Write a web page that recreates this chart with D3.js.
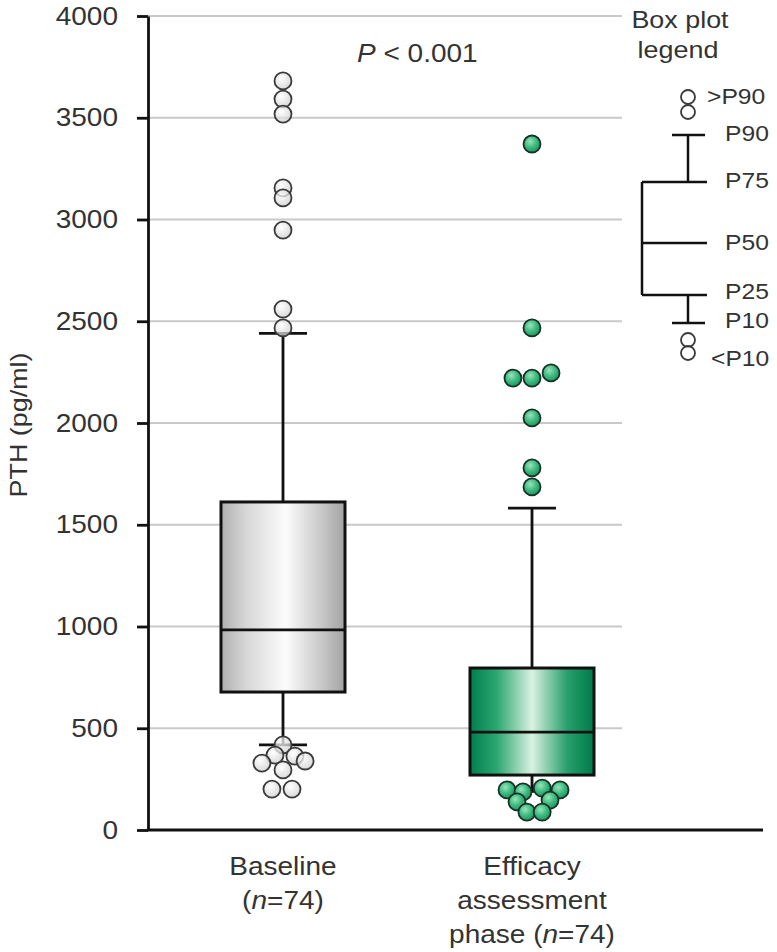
<!DOCTYPE html>
<html>
<head>
<meta charset="utf-8">
<script src="https://d3js.org/d3.v7.min.js"></script>
<style>
  body { margin: 0; background: #fff; }
  svg text { font-family: "Liberation Sans", Arial, sans-serif; fill: #333; }
</style>
</head>
<body>
<div class="chart"></div>
<script>
// data
const categories = ['Baseline', 'Efficacy assessment phase'];
const p10 = [418, 190];
const p25 = [678, 270];
const p50 = [983, 481];
const p75 = [1612, 796];
const p90 = [2440, 1582];

const baselineOutliers = [3681, 3592, 3518, 3155, 3106, 2948, 2560, 2467, 418, 368, 363, 329, 339, 295, 201, 201];
const baselineJitter = [0, 0, 0, 0, 0, 0, 0, 0, 0, -0.47, 0.7, -1.24, 1.3, 0, -0.65, 0.53];
const efficacyOutliers = [3371, 2467, 2221, 2221, 2246, 2025, 1779, 1686, 197, 187, 206, 197, 138, 147, 88, 88];
const efficacyJitter = [0, 0, -1.12, 0, 1.12, 0, 0, 0, -1.47, -0.53, 0.6, 1.65, -0.88, 1.06, -0.3, 0.6];

const yTicks = [0, 500, 1000, 1500, 2000, 2500, 3000, 3500, 4000];
const legendLabels = ['>P90', 'P90', 'P75', 'P50', 'P25', 'P10', '<P10'];

const w = 777, h = 952;
const boxW = 124;
const r = 8.5;
const stretch = 1.12;

const svg = d3.select('.chart').append('svg')
    .attr('width', w).attr('height', h);

const defs = svg.append('defs');
function linGrad(id, stops) {
    const g = defs.append('linearGradient').attr('id', id)
        .attr('x1', '0%').attr('x2', '100%').attr('y1', '0%').attr('y2', '0%');
    stops.forEach(s => g.append('stop').attr('offset', s[0]).attr('stop-color', s[1]));
}
linGrad('greyBox', [['0%', '#b0b0b0'], ['20%', '#d6d6d6'], ['52%', '#fcfcfc'], ['80%', '#cacaca'], ['100%', '#a2a2a2']]);
linGrad('greenBox', [['0%', '#007e4e'], ['22%', '#2ea872'], ['50%', '#d9f1e1'], ['78%', '#29a06c'], ['100%', '#007a4b']]);
function radGrad(id, stops) {
    const g = defs.append('radialGradient').attr('id', id)
        .attr('cx', '40%').attr('cy', '35%').attr('r', '65%');
    stops.forEach(s => g.append('stop').attr('offset', s[0]).attr('stop-color', s[1]));
}
radGrad('greyDot', [['0%', '#ffffff'], ['100%', '#cccccc']]);
radGrad('greenDot', [['0%', '#9be3bb'], ['55%', '#3dbb80'], ['100%', '#22955f']]);

const y = d3.scaleLinear().domain([0, 4000]).range([830, 16]);
const x = d3.scalePoint().domain(categories).range([283, 532]);

// horizontal grid
svg.append('g').selectAll('line')
    .data(yTicks.filter(d => d > 0))
    .enter().append('line')
    .attr('x1', 148).attr('x2', 622)
    .attr('y1', d => y(d)).attr('y2', d => y(d))
    .attr('stroke', '#c9c9c9').attr('stroke-width', 2);

// boxes
const stats = categories.map((c, i) => ({
    c: c, p10: p10[i], p25: p25[i], p50: p50[i], p75: p75[i], p90: p90[i],
    fill: i === 0 ? 'url(#greyBox)' : 'url(#greenBox)'
}));

const box = svg.append('g').selectAll('g').data(stats).enter().append('g');
box.append('line')
    .attr('x1', d => x(d.c)).attr('x2', d => x(d.c))
    .attr('y1', d => y(d.p90)).attr('y2', d => y(d.p10))
    .attr('stroke', '#111').attr('stroke-width', 2.8);
box.append('line')
    .attr('x1', d => x(d.c) - 24).attr('x2', d => x(d.c) + 24)
    .attr('y1', d => y(d.p90)).attr('y2', d => y(d.p90))
    .attr('stroke', '#111').attr('stroke-width', 2.8);
box.append('line')
    .attr('x1', d => x(d.c) - 24).attr('x2', d => x(d.c) + 24)
    .attr('y1', d => y(d.p10)).attr('y2', d => y(d.p10))
    .attr('stroke', '#111').attr('stroke-width', 2.8);
box.append('rect')
    .attr('x', d => x(d.c) - boxW / 2).attr('width', boxW)
    .attr('y', d => y(d.p75)).attr('height', d => y(d.p25) - y(d.p75))
    .attr('fill', d => d.fill)
    .attr('stroke', '#111').attr('stroke-width', 3);
box.append('line')
    .attr('x1', d => x(d.c) - boxW / 2).attr('x2', d => x(d.c) + boxW / 2)
    .attr('y1', d => y(d.p50)).attr('y2', d => y(d.p50))
    .attr('stroke', '#111').attr('stroke-width', 2.8);

// outliers
svg.append('g').selectAll('circle')
    .data(baselineOutliers.map((v, i) => [v, baselineJitter[i]]))
    .enter().append('circle')
    .attr('cx', d => x(categories[0]) + d[1] * 2 * r)
    .attr('cy', d => y(d[0]))
    .attr('r', r)
    .attr('fill', 'url(#greyDot)').attr('fill-opacity', 0.75)
    .attr('stroke', '#3a3a3a').attr('stroke-width', 1.8);

svg.append('g').selectAll('circle')
    .data(efficacyOutliers.map((v, i) => [v, efficacyJitter[i]]))
    .enter().append('circle')
    .attr('cx', d => x(categories[1]) + d[1] * 2 * r)
    .attr('cy', d => y(d[0]))
    .attr('r', r)
    .attr('fill', 'url(#greenDot)')
    .attr('stroke', '#173326').attr('stroke-width', 1.8);

// axes
const yAxis = d3.axisLeft(y).tickValues(yTicks).tickFormat(d3.format('d'))
    .tickSize(11).tickSizeOuter(0).tickPadding(19);
const ya = svg.append('g').attr('transform', 'translate(148,0)').call(yAxis);
ya.select('.domain').attr('stroke', '#111').attr('stroke-width', 2.8);
ya.selectAll('.tick line').attr('stroke', '#111').attr('stroke-width', 2.8);
ya.selectAll('.tick text').attr('font-size', 25).attr('fill', '#333')
    .style('font-family', '"Liberation Sans", Arial, sans-serif');

svg.append('line')
    .attr('x1', 147).attr('x2', 763).attr('y1', y(0)).attr('y2', y(0))
    .attr('stroke', '#111').attr('stroke-width', 3);

// y label
svg.append('text')
    .attr('transform', 'translate(27,425) rotate(-90)')
    .attr('text-anchor', 'middle').attr('font-size', 24)
    .text('PTH (pg/ml)');

// p value
const pv = svg.append('text').attr('x', 357).attr('y', 62).attr('font-size', 25);
pv.append('tspan').attr('font-style', 'italic').text('P');
pv.append('tspan').text(' < 0.001');

// category labels
const catLines = [
    [['Baseline'], ['(', ['n'], '=74)']],
    [['Efficacy'], ['assessment'], ['phase (', ['n'], '=74)']]
];
catLines.forEach((lines, i) => {
    lines.forEach((parts, j) => {
        const t = svg.append('text')
            .attr('x', x(categories[i])).attr('y', 875 + j * 34)
            .attr('text-anchor', 'middle').attr('font-size', 25);
        parts.forEach(p => {
            if (Array.isArray(p)) t.append('tspan').attr('font-style', 'italic').text(p[0]);
            else t.append('tspan').text(p);
        });
    });
});

// box plot legend
const lg = svg.append('g');
lg.append('text').attr('x', 680).attr('y', 28).attr('text-anchor', 'middle')
    .attr('font-size', 24).text('Box plot');
lg.append('text').attr('x', 678).attr('y', 58).attr('text-anchor', 'middle')
    .attr('font-size', 24).text('legend');

const lgPath = [
    [[672, 135], [705, 135]], [[688, 135], [688, 182]],
    [[642, 182], [707, 182]], [[642, 182], [642, 295]],
    [[642, 243], [707, 243]], [[642, 295], [707, 295]],
    [[688, 295], [688, 323]], [[672, 323], [705, 323]]
];
lg.selectAll('line').data(lgPath).enter().append('line')
    .attr('x1', d => d[0][0]).attr('y1', d => d[0][1])
    .attr('x2', d => d[1][0]).attr('y2', d => d[1][1])
    .attr('stroke', '#111').attr('stroke-width', 2.5);
lg.selectAll('circle').data([97, 112, 340, 353]).enter().append('circle')
    .attr('cx', 688).attr('cy', d => d).attr('r', 7)
    .attr('fill', '#fff').attr('fill-opacity', 0.6)
    .attr('stroke', '#3a3a3a').attr('stroke-width', 1.8);

const lgPos = [[707, 104], [725, 141], [725, 188], [725, 250], [725, 299], [725, 328], [711, 366]];
lg.selectAll('text.lab').data(legendLabels).enter().append('text')
    .attr('class', 'lab')
    .attr('x', (d, i) => lgPos[i][0]).attr('y', (d, i) => lgPos[i][1])
    .attr('font-size', 22).text(d => d);

// the source figure is slightly wider than it is tall, so widen the text a bit
svg.selectAll('text').each(function () {
    const len = this.getComputedTextLength();
    d3.select(this).attr('textLength', len * stretch).attr('lengthAdjust', 'spacingAndGlyphs');
});
</script>
</body>
</html>
